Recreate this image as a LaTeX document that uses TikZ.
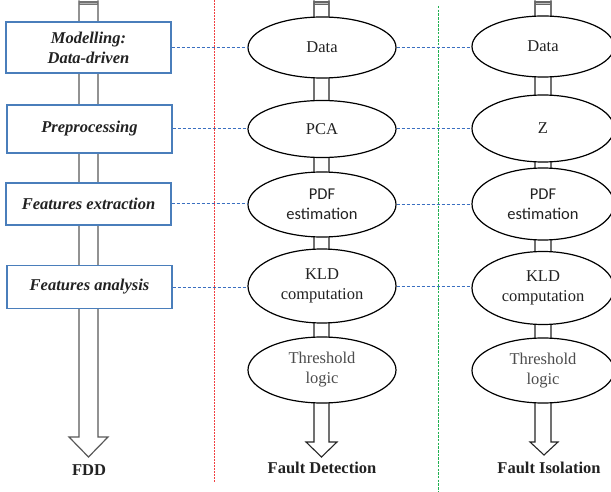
\documentclass[tikz,border=0pt]{standalone}
\usepackage{fontspec}
\setmainfont{Liberation Serif}
\newfontfamily\calibri{Carlito}
\usetikzlibrary{shapes.geometric,backgrounds}
\definecolor{boxblue}{HTML}{4A7EBB}
\definecolor{dashblue}{HTML}{3A6FC0}
\definecolor{dashred}{HTML}{F04040}
\definecolor{dashgreen}{HTML}{20B050}
\definecolor{txt}{HTML}{222222}
\begin{document}
\begin{tikzpicture}[x=1pt,y=-1pt,
  every node/.style={font=\fontsize{16.5}{20}\selectfont, text=txt, align=center, inner sep=0pt},
  stepbox/.style={draw=boxblue, line width=1.4pt, fill=white, minimum width=165pt, font=\fontsize{16.5}{20}\selectfont\bfseries\itshape},
  oval/.style={ellipse, draw=black, line width=1.2pt, fill=white},
  shaftgray/.style={draw=black!65, line width=1.2pt},
  shaftblack/.style={draw=black!85, line width=1.1pt},
  hlink/.style={draw=dashblue, line width=1pt, dash pattern=on 3pt off 2pt},
  title/.style={font=\fontsize{16.5}{20}\selectfont\bfseries}
]
\useasboundingbox (0,0) rectangle (611,492);
\clip (0,0) rectangle (611,492);

% left column boxes
\node[stepbox, minimum height=51pt] (l1) at (88.5,47.5) {Modelling:\\Data-driven};
\node[stepbox, minimum height=48pt] (l2) at (89.5,129) {Preprocessing};
\node[stepbox, minimum height=42pt] (l3) at (88.5,204) {Features extraction};
\node[stepbox, minimum height=43pt] (l4) at (89.5,287) {Features analysis};
\node[title] (fdd) at (89,470) {FDD};

% middle column
\node[oval, minimum width=148pt, minimum height=61pt] (m1) at (322,47.5) {Data};
\node[oval, minimum width=148pt, minimum height=57pt] (m2) at (322,129) {PCA};
\node[oval, minimum width=148pt, minimum height=65pt] (m3) at (322,204.5) {\calibri PDF\\\calibri estimation};
\node[oval, minimum width=148pt, minimum height=74pt] (m4) at (322,286) {KLD\\computation};
\node[oval, minimum width=148pt, minimum height=66pt, text=black!70] (m5) at (322,370) {Threshold\\logic};
\node[title] (fd) at (322,468) {Fault Detection};

% right column
\node[oval, minimum width=142pt, minimum height=61pt] (r1) at (543,46.5) {Data};
\node[oval, minimum width=142pt, minimum height=67pt] (r2) at (543,128.5) {Z};
\node[oval, minimum width=142pt, minimum height=72pt] (r3) at (543,204) {\calibri PDF\\\calibri estimation};
\node[oval, minimum width=142pt, minimum height=73pt] (r4) at (543,288) {KLD\\computation};
\node[oval, minimum width=142pt, minimum height=65pt, text=black!70] (r5) at (543,370.5) {Threshold\\logic};
\node[title] (fi) at (549,468) {Fault Isolation};

% free ends
\coordinate (ltop) at (88.5,0.5);
\coordinate (ltip) at (88.5,457);
\coordinate (mtop) at (321.5,0.5);
\coordinate (mtip) at (321.5,457);
\coordinate (rtop) at (543,0.5);
\coordinate (rtip) at (544,455);
\coordinate (redtop) at (214,0);
\coordinate (redbot) at (214,482);
\coordinate (greentop) at (438,6);
\coordinate (greenbot) at (438,492);

\begin{scope}[on background layer]
  \fill[white] (0,0) rectangle (611,492);
  % left hollow arrow
  \draw[shaftgray, fill=white, line join=miter]
    ([xshift=-9.5pt]ltop) -- ([xshift=-9.5pt,yshift=-436.5pt]ltop) -- ([xshift=-19.5pt,yshift=-436.5pt]ltop)
    -- (ltip) -- ([xshift=19.5pt,yshift=-436.5pt]ltop) -- ([xshift=9.5pt,yshift=-436.5pt]ltop) -- ([xshift=9.5pt]ltop);
  \fill[black!55] ([xshift=-9.5pt,yshift=-1pt]ltop) rectangle ([xshift=9.5pt,yshift=-5pt]ltop);
  \fill[black!30] ([xshift=-8.5pt,yshift=-2.3pt]ltop) rectangle ([xshift=8.5pt,yshift=-3.5pt]ltop);
  % middle hollow arrow
  \draw[shaftblack, fill=white, line join=miter]
    ([xshift=-7.5pt]mtop) -- ([xshift=-7.5pt,yshift=-441.5pt]mtop) -- ([xshift=-15.5pt,yshift=-441.5pt]mtop)
    -- (mtip) -- ([xshift=15.5pt,yshift=-441.5pt]mtop) -- ([xshift=7.5pt,yshift=-441.5pt]mtop) -- ([xshift=7.5pt]mtop);
  \fill[black!60] ([xshift=-7.5pt,yshift=-1pt]mtop) rectangle ([xshift=7.5pt,yshift=-5pt]mtop);
  \fill[black!25] ([xshift=-6.5pt,yshift=-2.3pt]mtop) rectangle ([xshift=6.5pt,yshift=-3.5pt]mtop);
  % right hollow arrow
  \draw[shaftblack, fill=white, line join=miter]
    ([xshift=-8pt]rtop) -- ([xshift=-8pt,yshift=-441.5pt]rtop) -- ([xshift=-13pt,yshift=-441.5pt]rtop)
    -- (rtip) -- ([xshift=15pt,yshift=-441.5pt]rtop) -- ([xshift=8pt,yshift=-441.5pt]rtop) -- ([xshift=8pt]rtop);
  \fill[black!60] ([xshift=-8pt,yshift=-1pt]rtop) rectangle ([xshift=8pt,yshift=-5pt]rtop);
  \fill[black!25] ([xshift=-7pt,yshift=-2.3pt]rtop) rectangle ([xshift=7pt,yshift=-3.5pt]rtop);
\end{scope}

% separators
\draw[dashred, line width=0.9pt, dash pattern=on 2pt off 1pt] (redtop) -- (redbot);
\draw[dashgreen, line width=0.9pt, dash pattern=on 2.5pt off 1.2pt] (greentop) -- (greenbot);

% horizontal dashed links
\draw[hlink] (l1.east) -- (l1.east -| m1.west);
\draw[hlink] (l2.east) -- (l2.east -| m2.west);
\draw[hlink] (l3.east) -- (l3.east -| m3.west);
\draw[hlink] (l4.east) -- (l4.east -| m4.west);
\draw[hlink] (m1.east) -- (m1.east -| r1.west);
\draw[hlink] (m2.east) -- (m2.east -| r2.west);
\draw[hlink] (m3.east) -- (m3.east -| r3.west);
\draw[hlink] (m4.east) -- (m4.east -| r4.west);
\end{tikzpicture}
\end{document}
